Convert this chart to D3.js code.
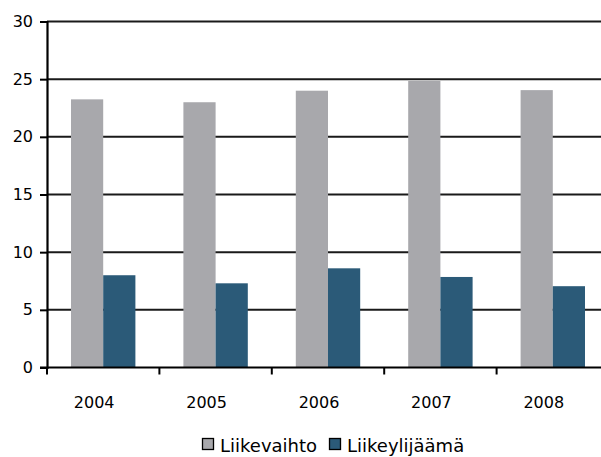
<!DOCTYPE html>
<html>
<head>
<meta charset="utf-8">
<script src="https://d3js.org/d3.v7.min.js"></script>
<style>
  body { margin: 0; background: #fff; }
  text { font-family: "DejaVu Sans", sans-serif; fill: #000; }
</style>
</head>
<body>
<div id="chart"></div>
<script>
// data
var years = ["2004", "2005", "2006", "2007", "2008"];
var seriesNames = ["Liikevaihto", "Liikeylijäämä"];
var liikevaihto = [23.25, 23.0, 24.0, 24.85, 24.05];
var liikeylijaama = [8.0, 7.3, 8.6, 7.85, 7.05];
var yTicks = [0, 5, 10, 15, 20, 25, 30];
var colors = ["#a8a8ac", "#2b5a78"];

var width = 601, height = 457;
var x0 = 47, plotTop = 21.5, plotBottom = 367.5;
var step = 112.4;

var svg = d3.select("#chart").append("svg")
    .attr("width", width)
    .attr("height", height);

var x = d3.scaleBand()
    .domain(years)
    .range([x0, x0 + step * years.length])
    .paddingInner(0)
    .paddingOuter(0);

var xSeries = d3.scaleBand()
    .domain(seriesNames)
    .range([24, step - 24]);

var y = d3.scaleLinear()
    .domain([0, 30])
    .range([plotBottom, plotTop]);

// gridlines
svg.append("g").selectAll("line")
    .data(yTicks.filter(function(d){ return d > 0; }))
    .enter().append("line")
    .attr("x1", x0)
    .attr("x2", width)
    .attr("y1", function(d){ return y(d); })
    .attr("y2", function(d){ return y(d); })
    .attr("stroke", "#1a1a1a")
    .attr("stroke-width", 2);

// bars
var rows = years.map(function(yr, i){
  return [{year: yr, s: seriesNames[0], v: liikevaihto[i]},
          {year: yr, s: seriesNames[1], v: liikeylijaama[i]}];
});

svg.append("g").selectAll("g")
    .data(rows)
    .enter().append("g")
    .attr("transform", function(d){ return "translate(" + x(d[0].year) + ",0)"; })
    .selectAll("rect")
    .data(function(d){ return d; })
    .enter().append("rect")
    .attr("x", function(d){ return xSeries(d.s); })
    .attr("width", xSeries.bandwidth())
    .attr("y", function(d){ return y(d.v); })
    .attr("height", function(d){ return y(0) - y(d.v); })
    .attr("fill", function(d, i){ return colors[i]; });

// y axis
var yAxis = svg.append("g")
    .attr("transform", "translate(" + x0 + ",0)")
    .call(d3.axisLeft(y).tickValues(yTicks).tickSize(7).tickPadding(7));
yAxis.select(".domain").attr("stroke", "#000").attr("stroke-width", 2.2);
yAxis.selectAll(".tick line").attr("stroke", "#000").attr("stroke-width", 2);
yAxis.selectAll(".tick text")
    .attr("font-size", "16px")
    .style("font-family", "DejaVu Sans, sans-serif");

// x axis line + ticks
svg.append("line")
    .attr("x1", x0 - 7).attr("x2", width)
    .attr("y1", y(0)).attr("y2", y(0))
    .attr("stroke", "#000").attr("stroke-width", 2.2);

svg.append("g").selectAll("line")
    .data(years)
    .enter().append("line")
    .attr("x1", function(d){ return x(d); })
    .attr("x2", function(d){ return x(d); })
    .attr("y1", y(0))
    .attr("y2", y(0) + 7)
    .attr("stroke", "#000").attr("stroke-width", 2);

svg.append("g").selectAll("text")
    .data(years)
    .enter().append("text")
    .attr("x", function(d){ return x(d) + x.bandwidth() / 2 - 9; })
    .attr("y", 408)
    .attr("text-anchor", "middle")
    .attr("font-size", "16px")
    .text(function(d){ return d; });

// legend
var legend = svg.append("g").attr("transform", "translate(202,452)");
var lx = [0, 127];
seriesNames.forEach(function(name, i){
  legend.append("rect")
      .attr("x", lx[i] + 0.5)
      .attr("y", -13.5)
      .attr("width", 11)
      .attr("height", 11)
      .attr("fill", colors[i])
      .attr("stroke", "#000")
      .attr("stroke-width", 1.3);
  legend.append("text")
      .attr("x", lx[i] + 18)
      .attr("y", 0)
      .attr("font-size", "18px")
      .text(name);
});
</script>
</body>
</html>
